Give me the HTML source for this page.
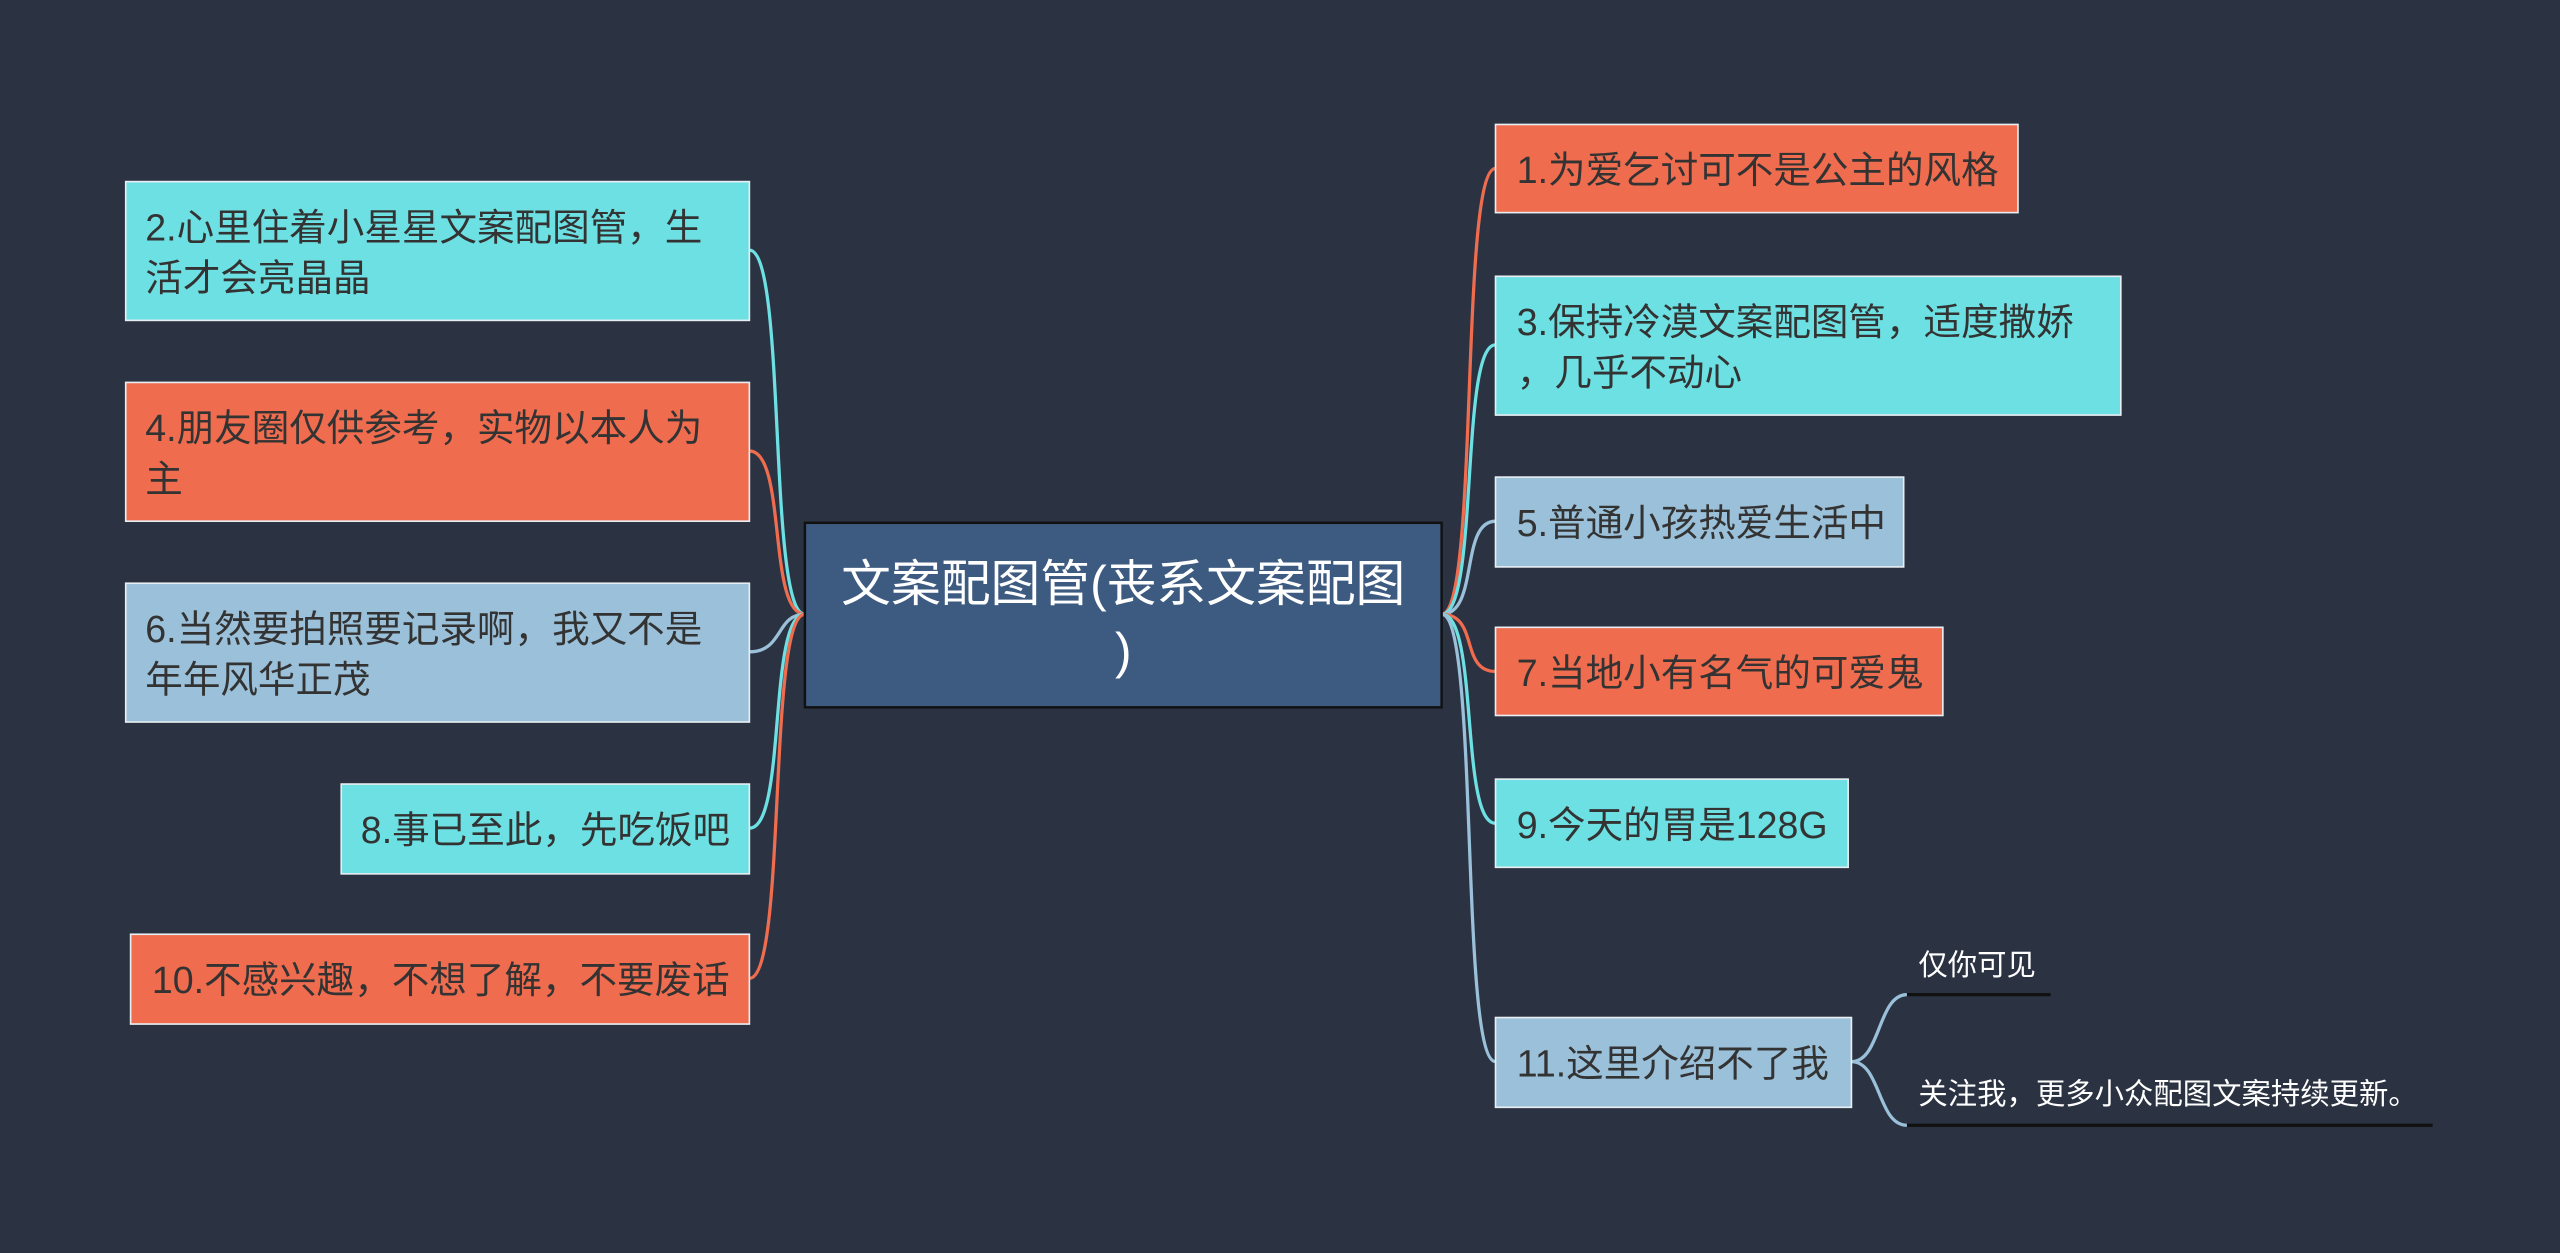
<!DOCTYPE html>
<html><head><meta charset="utf-8"><style>
html,body{margin:0;padding:0;background:#2b3342;}
svg{display:block;}
text{font-family:"Liberation Sans","Noto Sans CJK SC",sans-serif;}
</style></head><body>
<svg width="2560" height="1253" viewBox="0 0 1568 767" xmlns="http://www.w3.org/2000/svg">
<rect width="1568" height="767" fill="#2b3342"/>
<g fill="none" stroke-width="2">
<path d="M493 376 C470 376 482 153 459 153" stroke="#6de0e3"/>
<path d="M493 376 C470 376 482 276 459 276" stroke="#f06c4f"/>
<path d="M493 376 C475 376 480 399 459 399" stroke="#9bc0d9"/>
<path d="M493 376 C470 376 482 507 459 507" stroke="#6de0e3"/>
<path d="M493 376 C470 376 482 599 459 599" stroke="#f06c4f"/>
<path d="M883 376 C906 376 894 103 916 103" stroke="#f06c4f"/>
<path d="M883 376 C906 376 894 211 916 211" stroke="#6de0e3"/>
<path d="M883 376 C906 376 894 319 916 319" stroke="#9bc0d9"/>
<path d="M883 376 C906 376 894 411 916 411" stroke="#f06c4f"/>
<path d="M883 376 C906 376 894 504 916 504" stroke="#6de0e3"/>
<path d="M883 376 C906 376 894 650 916 650" stroke="#9bc0d9"/>
<path d="M1134 650 C1152 650 1150 609 1168 609" stroke="#9bc0d9"/>
<path d="M1134 650 C1152 650 1150 689 1168 689" stroke="#9bc0d9"/>
</g>
<line x1="1168" y1="609" x2="1256" y2="609" stroke="#111" stroke-width="2"/>
<line x1="1168" y1="689" x2="1490" y2="689" stroke="#111" stroke-width="2"/>
<g stroke="#e8eef2" stroke-width="1">
<rect x="77" y="111" width="382" height="85" fill="#6de0e3"/>
<rect x="77" y="234" width="382" height="85" fill="#f06c4f"/>
<rect x="77" y="357" width="382" height="85" fill="#9bc0d9"/>
<rect x="209" y="480" width="250" height="55" fill="#6de0e3"/>
<rect x="80" y="572" width="379" height="55" fill="#f06c4f"/>
<rect x="916" y="76" width="320" height="54" fill="#f06c4f"/>
<rect x="916" y="169" width="383" height="85" fill="#6de0e3"/>
<rect x="916" y="292" width="250" height="55" fill="#9bc0d9"/>
<rect x="916" y="384" width="274" height="54" fill="#f06c4f"/>
<rect x="916" y="477" width="216" height="54" fill="#6de0e3"/>
<rect x="916" y="623" width="218" height="55" fill="#9bc0d9"/>
</g>
<rect x="493" y="320" width="390" height="113" fill="#3d5a80" stroke="#111" stroke-width="1.5"/>
<g font-size="30.5" fill="#ffffff" text-anchor="middle">
<text x="688" y="368">文案配图管(丧系文案配图</text>
<text x="688" y="409">)</text>
</g>
<g font-size="23" fill="#333">
<text x="89" y="147">2.心里住着小星星文案配图管，生</text>
<text x="89" y="178">活才会亮晶晶</text>
<text x="89" y="270">4.朋友圈仅供参考，实物以本人为</text>
<text x="89" y="301">主</text>
<text x="89" y="393">6.当然要拍照要记录啊，我又不是</text>
<text x="89" y="424">年年风华正茂</text>
<text x="221" y="516">8.事已至此，先吃饭吧</text>
<text x="93" y="608">10.不感兴趣，不想了解，不要废话</text>
<text x="929" y="112">1.为爱乞讨可不是公主的风格</text>
<text x="929" y="205">3.保持冷漠文案配图管，适度撒娇</text>
<text x="929" y="236">，几乎不动心</text>
<text x="929" y="328">5.普通小孩热爱生活中</text>
<text x="929" y="420">7.当地小有名气的可爱鬼</text>
<text x="929" y="513">9.今天的胃是128G</text>
<text x="929" y="659">11.这里介绍不了我</text>
</g>
<g font-size="18" fill="#ffffff">
<text x="1175" y="597">仅你可见</text>
<text x="1175" y="676">关注我，更多小众配图文案持续更新。</text>
</g>
</svg>
</body></html>
